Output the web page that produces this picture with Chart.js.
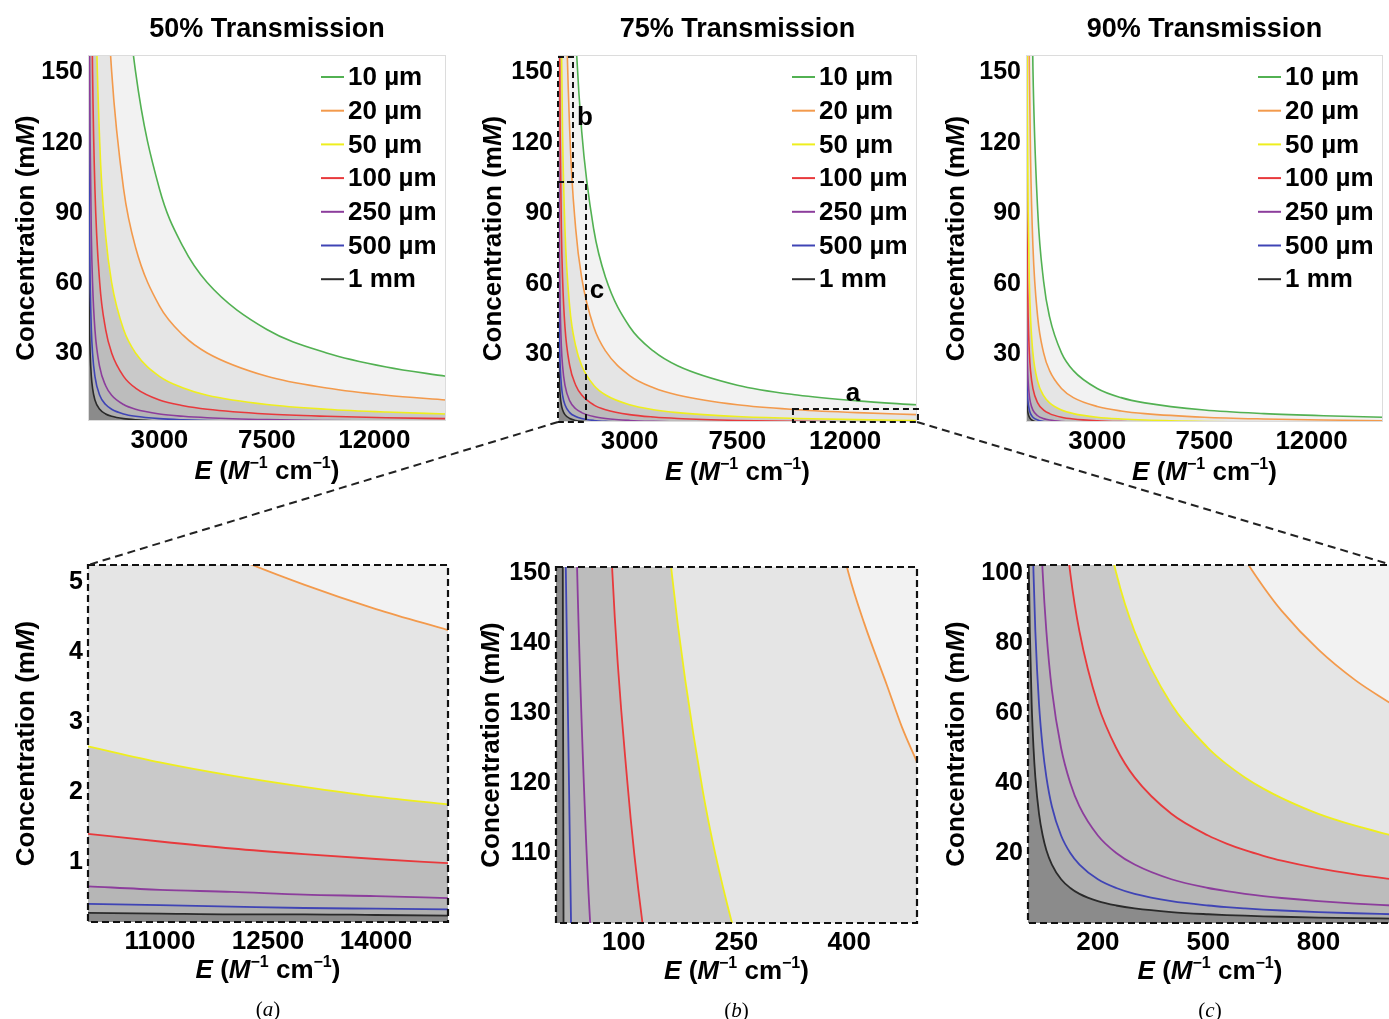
<!DOCTYPE html>
<html>
<head>
<meta charset="utf-8">
<title>Transmission vs. concentration and extinction coefficient</title>
<script src="https://cdn.jsdelivr.net/npm/chart.js@4.4.1/dist/chart.umd.min.js"></script>
<style>
  html, body { margin: 0; padding: 0; background: #fff; overflow: hidden; }
  body { width: 1389px; height: 1019px; position: relative; }
  canvas { position: absolute; }
</style>
</head>
<body>
<script>
// Path lengths (legend entries) and colours
const pathLengths = ['10 µm', '20 µm', '50 µm', '100 µm', '250 µm', '500 µm', '1 mm'];
const lineColors = ['#52b152', '#f39a4c', '#eeee1e', '#e8393c', '#8c3d9c', '#3f44b5', '#2a2a2a'];
// gray band under each curve (down to the next curve)
const bandColors = ['#f2f2f2', '#e5e5e5', '#c9c9c9', '#bcbcbc', '#b6b6b6', '#afafaf', '#8b8b8b'];

// Top row: E (M^-1 cm^-1) sample points shared by the three panels
const eTop = [10, 15, 20, 30, 50, 75, 100, 150, 200, 300, 500, 750, 1000, 1500, 2000, 3000, 4000, 5000, 7500, 10000, 12500, 15000];

// concentration (mM), one row per path length
const conc50 = [
    [30103, 20069, 15052, 10034, 6021, 4014, 3010, 2007, 1505, 1003, 602, 401, 301, 200.7, 150.5, 100.3, 75.3, 60.2, 40.1, 30.1, 24.1, 20.1],
    [15052, 10034, 7526, 5017, 3010, 2007, 1505, 1003, 753, 502, 301, 200.7, 150.5, 100.3, 75.3, 50.2, 37.6, 30.1, 20.1, 15.1, 12.0, 10.0],
    [6021, 4014, 3010, 2007, 1204, 803, 602, 401, 301, 200.7, 120.4, 80.3, 60.2, 40.1, 30.1, 20.1, 15.1, 12.0, 8.03, 6.02, 4.82, 4.01],
    [3010, 2007, 1505, 1003, 602, 401, 301, 200.7, 150.5, 100.3, 60.2, 40.1, 30.1, 20.1, 15.1, 10.0, 7.53, 6.02, 4.01, 3.01, 2.41, 2.01],
    [1204, 803, 602, 401, 241, 160.5, 120.4, 80.3, 60.2, 40.1, 24.1, 16.1, 12.0, 8.03, 6.02, 4.01, 3.01, 2.41, 1.61, 1.20, 0.96, 0.80],
    [602, 401, 301, 200.7, 120.4, 80.3, 60.2, 40.1, 30.1, 20.1, 12.0, 8.03, 6.02, 4.01, 3.01, 2.01, 1.51, 1.20, 0.80, 0.60, 0.48, 0.40],
    [301, 200.7, 150.5, 100.3, 60.2, 40.1, 30.1, 20.1, 15.1, 10.0, 6.02, 4.01, 3.01, 2.01, 1.51, 1.00, 0.75, 0.60, 0.40, 0.30, 0.24, 0.20]
];
const conc75 = [
    [12494, 8329, 6247, 4165, 2499, 1666, 1249, 833, 625, 416, 250, 166.6, 124.9, 83.3, 62.5, 41.6, 31.2, 25.0, 16.7, 12.5, 10.0, 8.33],
    [6247, 4165, 3123, 2082, 1249, 833, 625, 416, 312, 208, 125, 83.3, 62.5, 41.6, 31.2, 20.8, 15.6, 12.5, 8.33, 6.25, 5.00, 4.16],
    [2499, 1666, 1249, 833, 500, 333, 250, 166.6, 124.9, 83.3, 50.0, 33.3, 25.0, 16.7, 12.5, 8.33, 6.25, 5.00, 3.33, 2.50, 2.00, 1.67],
    [1249, 833, 625, 416, 250, 166.6, 124.9, 83.3, 62.5, 41.6, 25.0, 16.7, 12.5, 8.33, 6.25, 4.16, 3.12, 2.50, 1.67, 1.25, 1.00, 0.83],
    [500, 333, 250, 166.6, 100, 66.6, 50.0, 33.3, 25.0, 16.7, 10.0, 6.66, 5.00, 3.33, 2.50, 1.67, 1.25, 1.00, 0.67, 0.50, 0.40, 0.33],
    [250, 166.6, 125, 83.3, 50.0, 33.3, 25.0, 16.7, 12.5, 8.33, 5.00, 3.33, 2.50, 1.67, 1.25, 0.83, 0.62, 0.50, 0.33, 0.25, 0.20, 0.17],
    [125, 83.3, 62.5, 41.6, 25.0, 16.7, 12.5, 8.33, 6.25, 4.16, 2.50, 1.67, 1.25, 0.83, 0.62, 0.42, 0.31, 0.25, 0.17, 0.12, 0.10, 0.08]
];
const conc90 = [
    [4576, 3050, 2288, 1525, 915, 610, 457.6, 305, 228.8, 152.5, 91.5, 61.0, 45.8, 30.5, 22.9, 15.3, 11.4, 9.15, 6.10, 4.58, 3.66, 3.05],
    [2288, 1525, 1144, 763, 458, 305, 228.8, 152.5, 114.4, 76.3, 45.8, 30.5, 22.9, 15.3, 11.4, 7.63, 5.72, 4.58, 3.05, 2.29, 1.83, 1.53],
    [915, 610, 458, 305, 183, 122, 91.5, 61.0, 45.8, 30.5, 18.3, 12.2, 9.15, 6.10, 4.58, 3.05, 2.29, 1.83, 1.22, 0.92, 0.73, 0.61],
    [458, 305, 229, 152.5, 91.5, 61.0, 45.8, 30.5, 22.9, 15.3, 9.15, 6.10, 4.58, 3.05, 2.29, 1.53, 1.14, 0.92, 0.61, 0.46, 0.37, 0.31],
    [183, 122, 91.5, 61.0, 36.6, 24.4, 18.3, 12.2, 9.15, 6.10, 3.66, 2.44, 1.83, 1.22, 0.92, 0.61, 0.46, 0.37, 0.24, 0.18, 0.15, 0.12],
    [91.5, 61.0, 45.8, 30.5, 18.3, 12.2, 9.15, 6.10, 4.58, 3.05, 1.83, 1.22, 0.92, 0.61, 0.46, 0.31, 0.23, 0.18, 0.12, 0.09, 0.07, 0.06],
    [45.8, 30.5, 22.9, 15.3, 9.15, 6.10, 4.58, 3.05, 2.29, 1.53, 0.92, 0.61, 0.46, 0.31, 0.23, 0.15, 0.11, 0.09, 0.06, 0.05, 0.04, 0.03]
];

// Zoom (a): 75% transmission, high E corner
const eZoomA = [10000, 11000, 12000, 13000, 14000, 15000];
const concZoomA = [
    [12.64, 11.51, 10.56, 9.76, 9.07, 8.48],
    [6.40, 5.83, 5.36, 4.96, 4.61, 4.31],
    [2.65, 2.42, 2.23, 2.07, 1.93, 1.82],
    [1.40, 1.29, 1.19, 1.11, 1.04, 0.98],
    [0.65, 0.60, 0.57, 0.53, 0.51, 0.48],
    [0.40, 0.38, 0.36, 0.34, 0.33, 0.32],
    [0.27, 0.26, 0.25, 0.25, 0.24, 0.23]
];

// Zoom (b): 75% transmission, low E / high concentration
const eZoomB = [10, 19, 20, 23, 30, 38, 47, 56, 85, 105, 125, 164, 205, 244, 300, 399, 420, 450, 470, 490];
const concZoomB = [
    [6000, 4000, 3800, 3300, 2700, 2300, 2000, 1750, 1240, 1040, 890, 695, 566, 480, 395, 301, 287, 268, 257, 246],
    [3000, 2000, 1900, 1650, 1360, 1160, 993, 869, 618, 516, 442, 346, 282, 240, 197, 150, 142.8, 134, 128, 123],
    [2000, 1600, 1500, 1263, 923, 706, 558, 462, 296, 238, 198, 150, 119, 100, 81, 61, 58, 54, 51.5, 49],
    [1500, 857, 800, 667, 480, 364, 286, 235, 150, 120, 100, 75, 60, 50, 41, 30.5, 29, 27, 25.8, 24.7],
    [790, 335, 314, 266, 196, 151, 120, 99, 64, 51, 43, 32.5, 26, 21.7, 17.6, 13.2, 12.6, 11.7, 11.2, 10.7],
    [500, 201, 184, 151, 100, 73, 56, 46, 28.5, 22.6, 18.7, 14, 11.1, 9.3, 7.5, 5.6, 5.4, 5.0, 4.8, 4.6],
    [300, 151, 100, 60, 25, 14, 10, 8, 4.4, 3.4, 2.8, 2.0, 1.6, 1.3, 1.1, 0.8, 0.75, 0.7, 0.65, 0.6]
];

// Zoom (c): 75% transmission, low E
const eZoomC = [10, 12, 15, 20, 25, 30, 40, 50, 60, 75, 100, 125, 150, 200, 250, 300, 400, 500, 550, 600, 650, 700, 800, 900, 1000];
const concZoomC = [
    [12494, 10412, 8329, 6247, 4998, 4165, 3123, 2499, 2082, 1666, 1249, 999.5, 833, 625, 500, 416, 312, 250, 227, 208, 192, 178, 156, 139, 125],
    [6247, 5206, 4165, 3123, 2499, 2082, 1562, 1249, 1041, 833, 625, 500, 416, 312, 250, 208, 156, 125, 113.6, 104, 96.1, 89.2, 78.1, 69.4, 62.5],
    [2499, 2082, 1666, 1249, 1000, 833, 625, 500, 416, 333, 250, 200, 167, 125, 100, 83.3, 62.5, 50, 45.4, 41.6, 38.4, 35.7, 31.2, 27.8, 25],
    [1249, 1041, 833, 625, 500, 416, 312, 250, 208, 167, 125, 100, 83.3, 62.5, 50, 41.6, 31.2, 25, 22.7, 20.8, 19.2, 17.8, 15.6, 13.9, 12.5],
    [499.8, 416.5, 333.2, 249.9, 199.9, 166.6, 125, 100, 83.3, 66.6, 50, 40, 33.3, 25, 20, 16.7, 12.5, 10, 9.09, 8.33, 7.69, 7.14, 6.25, 5.55, 5],
    [249.9, 208.3, 166.6, 125, 100, 83.3, 62.5, 50, 41.7, 33.3, 25, 20, 16.7, 12.5, 10, 8.33, 6.25, 5, 4.54, 4.17, 3.84, 3.57, 3.12, 2.78, 2.5],
    [124.9, 104.1, 83.3, 62.5, 50.0, 41.6, 31.2, 25.0, 20.8, 16.7, 12.5, 10.0, 8.33, 6.25, 5.0, 4.16, 3.12, 2.5, 2.27, 2.08, 1.92, 1.78, 1.56, 1.39, 1.25]
];

// Tick labels
const ticksTopX = [3000, 7500, 12000];
const ticksTopY = [30, 60, 90, 120, 150];
const ticksAX = [11000, 12500, 14000];
const ticksAY = [1, 2, 3, 4, 5];
const ticksBX = [100, 250, 400];
const ticksBY = [110, 120, 130, 140, 150];
const ticksCX = [200, 500, 800];
const ticksCY = [20, 40, 60, 80, 100];

// Zoom rectangles drawn on the 75% panel (data units) and their letters
const zoomBoxes = [
    { e: [10, 636], c: [103.3, 156.6] },
    { e: [10, 1179], c: [1, 103.3] },
    { e: [9821, 15040], c: [1, 6.5] }
];
const zoomLetters = [
    { t: 'b', e: 1137, c: 131.5 },
    { t: 'c', e: 1638, c: 57.7 },
    { t: 'a', e: 12326, c: 13.8 }
];

const SANS = '"Liberation Sans", Arial, Helvetica, sans-serif';
const SERIF = '"Liberation Serif", "Times New Roman", serif';

const yTitle = [{ t: 'Concentration (m' }, { t: 'M', i: true }, { t: ')' }];
const xTitle = [{ t: 'E', i: true }, { t: ' (' }, { t: 'M', i: true }, { t: '\u22121', sup: true },
                { t: ' cm' }, { t: '\u22121', sup: true }, { t: ')' }];

// draw a line of text made of parts with their own style, centred on (x, y)
function drawRich(ctx, parts, x, y, size, family, bold, rotate) {
    ctx.save();
    ctx.translate(x, y);
    if (rotate) ctx.rotate(-Math.PI / 2);
    const fontFor = p => (p.i ? 'italic ' : '') + (bold ? 'bold ' : '') +
        (p.sup ? Math.round(size * 0.62) : size) + 'px ' + family;
    let total = 0;
    const widths = parts.map(p => { ctx.font = fontFor(p); const w = ctx.measureText(p.t).width; total += w; return w; });
    let cx = -total / 2;
    ctx.textAlign = 'left';
    ctx.textBaseline = 'alphabetic';
    ctx.fillStyle = '#000';
    parts.forEach((p, k) => {
        ctx.font = fontFor(p);
        ctx.fillText(p.t, cx, size * 0.36 - (p.sup ? size * 0.42 : 0));
        cx += widths[k];
    });
    ctx.restore();
}

// frames, titles, legend, captions and zoom boxes
const decor = {
    id: 'decor',
    afterDraw(chart, args, o) {
        const ctx = chart.ctx, a = chart.chartArea;
        const xs = chart.scales.x, ys = chart.scales.y;
        ctx.save();
        if (o.dashed) {
            ctx.setLineDash([7, 4]);
            ctx.lineWidth = 2.2;
            ctx.strokeStyle = '#111';
            ctx.strokeRect(a.left, a.top, a.right - a.left, a.bottom - a.top);
        } else {
            ctx.lineWidth = 1;
            ctx.strokeStyle = '#dcdcdc';
            ctx.strokeRect(a.left + 0.5, a.top + 0.5, a.right - a.left - 1, a.bottom - a.top - 1);
        }
        ctx.restore();

        if (o.title) drawRich(ctx, [{ t: o.title }], (a.left + a.right) / 2, a.top - 28, 27, SANS, true);
        drawRich(ctx, yTitle, a.left - o.titleDx, (a.top + a.bottom) / 2, 26, SANS, true, true);
        drawRich(ctx, xTitle, (a.left + a.right) / 2, a.bottom + o.xTitleDy, 26, SANS, true);
        if (o.caption) {
            drawRich(ctx, [{ t: '(' }, { t: o.caption, i: true }, { t: ')' }],
                (a.left + a.right) / 2, a.bottom + 86, 21, SERIF, false);
        }

        if (o.legend) {
            chart.data.datasets.forEach((ds, i) => {
                const y = a.top + 22 + 33.7 * i;
                ctx.save();
                ctx.strokeStyle = ds.borderColor;
                ctx.lineWidth = 2;
                ctx.beginPath();
                ctx.moveTo(a.right - 125, y);
                ctx.lineTo(a.right - 102, y);
                ctx.stroke();
                ctx.fillStyle = '#000';
                ctx.font = 'bold 26px ' + SANS;
                ctx.textAlign = 'left';
                ctx.textBaseline = 'middle';
                ctx.fillText(ds.label, a.right - 98, y + 1);
                ctx.restore();
            });
        }

        if (o.boxes) {
            ctx.save();
            ctx.setLineDash([6, 4]);
            ctx.lineWidth = 2;
            ctx.strokeStyle = '#111';
            zoomBoxes.forEach(b => {
                const x1 = xs.getPixelForValue(b.e[0]), x2 = xs.getPixelForValue(b.e[1]);
                const y1 = ys.getPixelForValue(b.c[1]), y2 = ys.getPixelForValue(b.c[0]);
                ctx.strokeRect(x1, y1, x2 - x1, y2 - y1);
            });
            ctx.restore();
            zoomLetters.forEach(l => {
                drawRich(ctx, [{ t: l.t }], xs.getPixelForValue(l.e), ys.getPixelForValue(l.c), 26, SANS, true);
            });
        }
    }
};

// panel layout: chart area and canvas box in page pixels
const panels = [
    { area: [88, 55, 446, 421], box: [0, 0, 466, 500], e: eTop, c: conc50, xr: [10, 15000], yr: [1, 157.5],
      xt: ticksTopX, yt: ticksTopY, title: '50% Transmission', legend: true, titleDx: 63, xTitleDy: 49 },
    { area: [558, 55, 917, 422], box: [468, 0, 937, 500], e: eTop, c: conc75, xr: [10, 15000], yr: [1, 157.5],
      xt: ticksTopX, yt: ticksTopY, title: '75% Transmission', legend: true, boxes: true, titleDx: 66, xTitleDy: 49 },
    { area: [1026, 55, 1383, 422], box: [937, 0, 1403, 500], e: eTop, c: conc90, xr: [10, 15000], yr: [1, 157.5],
      xt: ticksTopX, yt: ticksTopY, title: '90% Transmission', legend: true, titleDx: 71, xTitleDy: 49 },
    { area: [88, 565, 448, 922], box: [0, 500, 466, 1019], e: eZoomA, c: concZoomA, xr: [10000, 15000], yr: [0.14, 5.24],
      xt: ticksAX, yt: ticksAY, caption: 'a', dashed: true, titleDx: 63, xTitleDy: 47 },
    { area: [556, 567, 917, 923], box: [468, 500, 937, 1019], e: eZoomB, c: concZoomB, xr: [10, 490], yr: [100, 150.9],
      xt: ticksBX, yt: ticksBY, caption: 'b', dashed: true, titleDx: 66, xTitleDy: 47 },
    { area: [1028, 565, 1392, 923], box: [937, 500, 1403, 1019], e: eZoomC, c: concZoomC, xr: [10, 1000], yr: [0, 102.3],
      xt: ticksCX, yt: ticksCY, caption: 'c', dashed: true, titleDx: 73, xTitleDy: 47 }
];

function makeDatasets(p) {
    return p.c.map((ys, i) => ({
        label: pathLengths[i],
        data: p.e.map((x, j) => ({ x: x, y: ys[j] })),
        borderColor: lineColors[i],
        backgroundColor: bandColors[i],
        borderWidth: p.box[1] === 0 ? 1.6 : 1.8,
        pointRadius: 0,
        fill: i < p.c.length - 1 ? '+1' : 'start',
        cubicInterpolationMode: 'monotone'
    }));
}

const tickFont = { family: SANS, weight: 'bold' };
const charts = panels.map(p => {
    const [l, t, r, b] = p.area;
    const [cl, ct, cr, cb] = p.box;
    const canvas = document.createElement('canvas');
    canvas.width = cr - cl;
    canvas.height = cb - ct;
    canvas.style.left = cl + 'px';
    canvas.style.top = ct + 'px';
    document.body.appendChild(canvas);

    return new Chart(canvas.getContext('2d'), {
        type: 'line',
        data: { datasets: makeDatasets(p) },
        options: {
            responsive: false,
            animation: false,
            events: [],
            layout: { padding: { left: 0, top: t - ct, right: cr - r, bottom: 0 } },
            plugins: {
                legend: { display: false },
                tooltip: { enabled: false },
                filler: { drawTime: 'beforeDatasetsDraw', propagate: false },
                decor: p
            },
            scales: {
                x: {
                    type: 'linear',
                    min: p.xr[0], max: p.xr[1],
                    grid: { display: false, drawTicks: false },
                    border: { display: false },
                    ticks: { font: { ...tickFont, size: 26 }, color: '#000', padding: 4,
                             maxRotation: 0, autoSkip: false, callback: v => String(v) },
                    afterBuildTicks: s => { s.ticks = p.xt.map(v => ({ value: v })); },
                    afterFit: s => { s.height = cb - b; }
                },
                y: {
                    type: 'linear',
                    min: p.yr[0], max: p.yr[1],
                    grid: { display: false, drawTicks: false },
                    border: { display: false },
                    ticks: { font: { ...tickFont, size: 25 }, color: '#000', padding: 5,
                             autoSkip: false, callback: v => String(v) },
                    afterBuildTicks: s => { s.ticks = p.yt.map(v => ({ value: v })); },
                    afterFit: s => { s.width = l - cl; }
                }
            }
        },
        plugins: [decor]
    });
});

// dashed lines joining the 75% panel to the zoom panels
const overlay = document.createElement('canvas');
overlay.width = 1389;
overlay.height = 1019;
overlay.style.left = '0px';
overlay.style.top = '0px';
document.body.appendChild(overlay);
const octx = overlay.getContext('2d');

function pagePoint(chart, side, edge) {
    const a = chart.chartArea;
    return [chart.canvas.offsetLeft + a[side], chart.canvas.offsetTop + a[edge]];
}
const joins = [
    [pagePoint(charts[1], 'left', 'bottom'), pagePoint(charts[3], 'left', 'top')],
    [pagePoint(charts[1], 'right', 'bottom'), pagePoint(charts[5], 'right', 'top')]
];
octx.setLineDash([8, 5]);
octx.lineWidth = 2;
octx.strokeStyle = '#222';
joins.forEach(([p1, p2]) => {
    octx.beginPath();
    octx.moveTo(p1[0], p1[1]);
    octx.lineTo(p2[0], p2[1]);
    octx.stroke();
});
</script>
</body>
</html>
